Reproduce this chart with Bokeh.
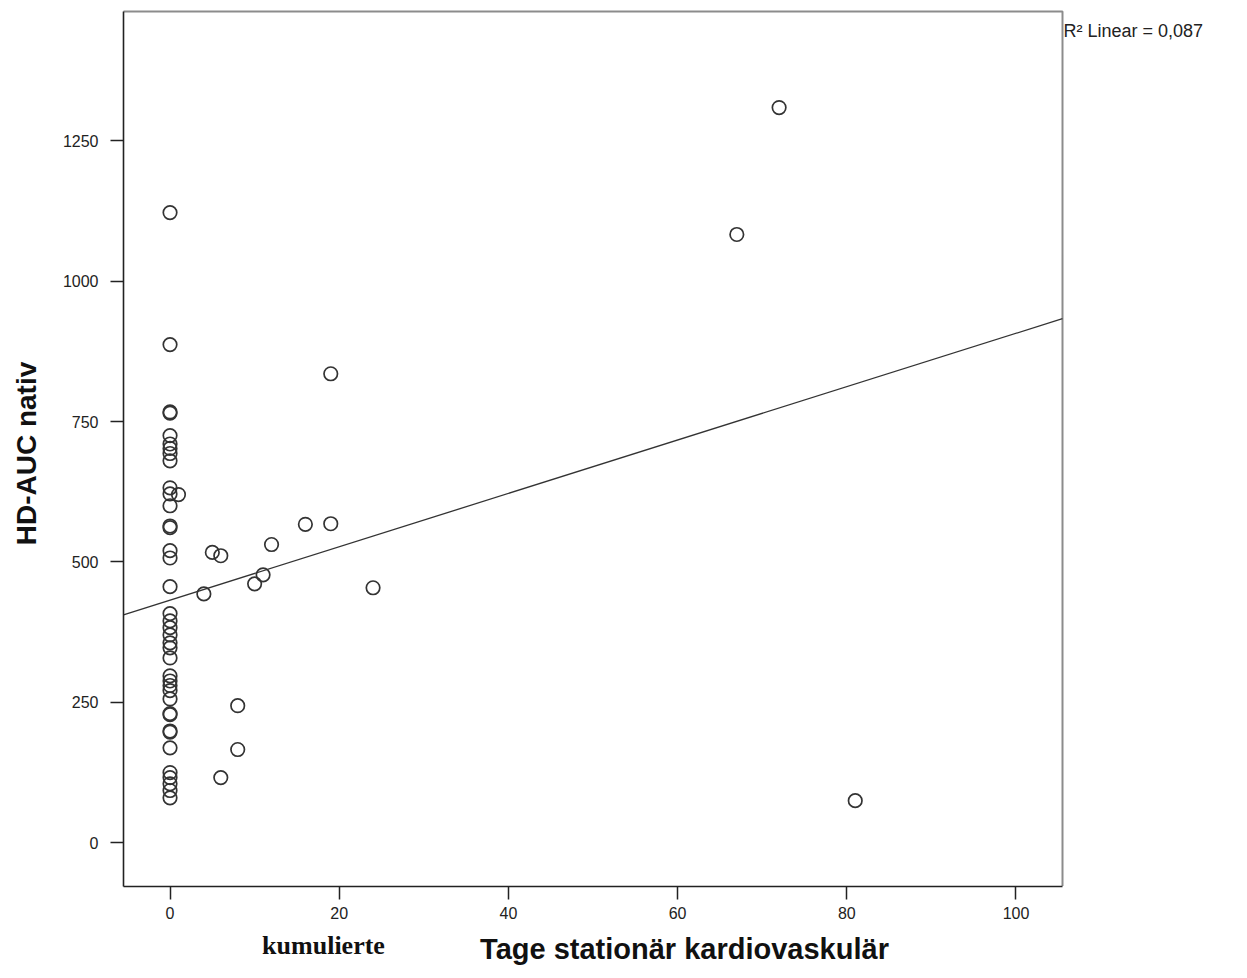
from bokeh.plotting import figure
from bokeh.models import Range1d, Label, FixedTicker, ColumnDataSource, LinearAxis
from bokeh.embed import file_html
from bokeh.resources import INLINE

# ---- data ----
days_zero_hd = [1122, 887, 767, 765, 725, 710, 702, 693, 680, 632, 621, 600,
                564, 561, 520, 507, 456, 408, 395, 383, 370, 356, 347, 329,
                297, 288, 280, 271, 256, 230, 228, 199, 197, 169, 125, 116,
                105, 93, 80]
other_days = [1, 5, 6, 12, 16, 4, 10, 11, 19, 19, 24, 8, 8, 6, 67, 72, 81]
other_hd = [620, 517, 511, 531, 567, 443, 461, 477, 568, 835, 454, 244, 166,
            116, 1083, 1309, 75]

days = [0] * len(days_zero_hd) + other_days
hd_auc = days_zero_hd + other_hd

fit_intercept = 432.0
fit_slope = 4.75
r2_text = "R\u00b2 Linear = 0,087"

x_ticks = [0, 20, 40, 60, 80, 100]
y_ticks = [0, 250, 500, 750, 1000, 1250]

x_title_1 = "kumulierte"
x_title_2 = "Tage station\u00e4r kardiovaskul\u00e4r"
y_title = "HD-AUC nativ"

# axis limits of the plot box
X_MIN, X_MAX = -5.5, 105.5
Y_MIN, Y_MAX = -77.0, 1480.0

# ---- layout: the plot box inside the page (pixels) ----
W, H = 1247, 978
BOX_L, BOX_R, BOX_T, BOX_B = 123.0, 1062.0, 11.0, 885.5

ux = (X_MAX - X_MIN) / (BOX_R - BOX_L)
uy = (Y_MAX - Y_MIN) / (BOX_B - BOX_T)
x_view = (X_MIN - BOX_L * ux, X_MAX + (W - BOX_R) * ux)
y_view = (Y_MIN - (H - BOX_B) * uy, Y_MAX + BOX_T * uy)


def px_x(px):
    return x_view[0] + px * ux


def px_y(py):
    return y_view[1] - py * uy


p = figure(width=W, height=H, output_backend="svg", toolbar_location=None,
           x_range=Range1d(*x_view), y_range=Range1d(*y_view),
           x_axis_location=None, y_axis_location=None,
           min_border=0, min_border_left=0, min_border_right=0,
           min_border_top=0, min_border_bottom=0)
if p.title is not None:
    p.title.visible = False
p.background_fill_color = "white"
p.border_fill_color = "white"
p.outline_line_color = None
p.xgrid.visible = False
p.ygrid.visible = False

xaxis = LinearAxis(fixed_location=Y_MIN, bounds=(X_MIN, X_MAX),
                   ticker=FixedTicker(ticks=x_ticks))
yaxis = LinearAxis(fixed_location=X_MIN, bounds=(Y_MIN, Y_MAX),
                   ticker=FixedTicker(ticks=y_ticks))
for ax in (xaxis, yaxis):
    ax.major_tick_out = 13
    ax.major_tick_in = 0
    ax.minor_tick_out = 0
    ax.minor_tick_in = 0
    ax.axis_line_color = "#222222"
    ax.axis_line_width = 1.6
    ax.major_tick_line_color = "#222222"
    ax.major_tick_line_width = 1.5
    ax.major_label_text_font = "Liberation Sans"
    ax.major_label_text_font_size = "16px"
    ax.major_label_text_color = "#222222"
xaxis.major_label_standoff = 8
yaxis.major_label_standoff = 12
p.add_layout(xaxis, "below")
p.add_layout(yaxis, "left")

# gray top and right edges of the plot box
p.line(x=[X_MIN, X_MAX, X_MAX], y=[Y_MAX, Y_MAX, Y_MIN],
       line_color="#8c8c8c", line_width=2)

# regression line across the box
fit_x = [X_MIN, X_MAX]
fit_y = [fit_intercept + fit_slope * v for v in fit_x]
p.line(x=fit_x, y=fit_y, line_color="#333333", line_width=1.3)

src = ColumnDataSource(dict(days=days, hd=hd_auc))
p.scatter("days", "hd", source=src, marker="circle", size=13.5,
          fill_color=None, line_color="#333333", line_width=1.7)

p.add_layout(Label(x=px_x(1063), y=px_y(30), text=r2_text,
                   text_font="Liberation Sans", text_font_size="18px",
                   text_color="#222222", text_baseline="middle",
                   text_align="left"))
p.add_layout(Label(x=px_x(323), y=px_y(945), text=x_title_1,
                   text_font="Liberation Serif", text_font_style="bold",
                   text_font_size="26px", text_color="#111111",
                   text_baseline="middle", text_align="center"))
p.add_layout(Label(x=px_x(684), y=px_y(948), text=x_title_2,
                   text_font="Liberation Sans", text_font_style="bold",
                   text_font_size="29px", text_color="#111111",
                   text_baseline="middle", text_align="center"))
p.add_layout(Label(x=px_x(26), y=px_y(453), text=y_title,
                   text_font="Liberation Sans", text_font_style="bold",
                   text_font_size="28px", text_color="#111111",
                   text_baseline="middle", text_align="center",
                   angle=90, angle_units="deg"))

open("out.html", "w").write(file_html(p, INLINE))
